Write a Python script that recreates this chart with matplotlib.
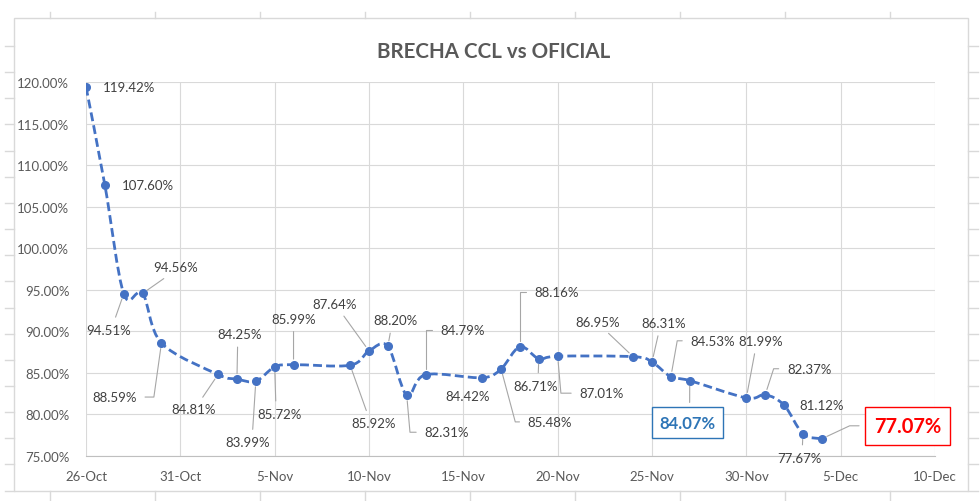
import numpy as np
import pandas as pd
import matplotlib
matplotlib.use("Agg")
import matplotlib.pyplot as plt
import matplotlib.dates as mdates
from matplotlib.path import Path
from matplotlib.patches import PathPatch, Rectangle
from matplotlib.lines import Line2D
from matplotlib.ticker import PercentFormatter, FuncFormatter

### data
fechas = ["2020-10-26", "2020-10-27", "2020-10-28", "2020-10-29", "2020-10-30",
          "2020-11-02", "2020-11-03", "2020-11-04", "2020-11-05", "2020-11-06",
          "2020-11-09", "2020-11-10", "2020-11-11", "2020-11-12", "2020-11-13",
          "2020-11-16", "2020-11-17", "2020-11-18", "2020-11-19", "2020-11-20",
          "2020-11-24", "2020-11-25", "2020-11-26", "2020-11-27",
          "2020-11-30", "2020-12-01", "2020-12-02", "2020-12-03", "2020-12-04"]
brecha = [119.42, 107.60, 94.51, 94.56, 88.59,
          84.81, 84.25, 83.99, 85.72, 85.99,
          85.92, 87.64, 88.20, 82.31, 84.79,
          84.42, 85.48, 88.16, 86.71, 87.01,
          86.95, 86.31, 84.53, 84.07,
          81.99, 82.37, 81.12, 77.67, 77.07]
titulo = "BRECHA CCL vs OFICIAL"
x_inicio, x_fin = "2020-10-26", "2020-12-10"
y_min, y_max, y_paso = 75, 120, 5

# label placement: offset in pixels from the point, leader kind, elbow angle
lbl_dx = [43, 43, -15, 33, -47, -24, 3, -8, 5, 0, 23, -34, 8, 40, 37,
          -15, 49, 37, -3, 44, -35, 12, 42, -2, 14, 44, 38, -3, 86]
lbl_dy = [0, 0, -36, 26, -54, -35, 45, -61, -47, 46, -58, 47, 26, -37, 45,
          -18, -53, 55, -27, -37, 35, 39, 36, -42, 57, 26, 0, -24, 13]
leader = ["none", "none", "line", "line", "elbow", "line", "line", "line", "line", "line",
          "line", "line", "line", "elbow", "elbow", "none", "elbow", "elbow", "line", "elbow",
          "line", "line", "elbow", "line", "line", "elbow", "none", "line", "elbow"]
elbow_ang = {4: 82, 13: 95, 14: 90, 16: 105, 17: 90, 19: 95, 22: 80, 25: 72, 28: 25}
highlight = {23: ("#2E75B6", 12), 28: ("#FF0000", 14.5)}

plt.rcParams["font.family"] = ["Lato", "DejaVu Sans"]
BLUE = "#4472C4"
GRID = "#d9d9d9"
TXT = "#595959"
LBL = "#404040"

fig = plt.figure(figsize=(9.8, 5.02), dpi=100)
ax = fig.add_axes([86 / 980, 45 / 502, (935 - 86) / 980, (457 - 83) / 502])

x = mdates.date2num(pd.to_datetime(fechas))
y = np.array(brecha)

### smoothed line (excel style bezier)
pts = np.column_stack([x, y])
ext = np.vstack([pts[:1], pts, pts[-1:]])
verts = [tuple(pts[0])]
codes = [Path.MOVETO]
for i in range(len(pts) - 1):
    c1 = pts[i] + (ext[i + 2] - ext[i]) / 6
    c2 = pts[i + 1] - (ext[i + 3] - ext[i + 1]) / 6
    verts += [tuple(c1), tuple(c2), tuple(pts[i + 1])]
    codes += [Path.CURVE4] * 3
ax.add_patch(PathPatch(Path(verts, codes), fill=False, edgecolor=BLUE, lw=2,
                       linestyle=(0, (3.2, 1.5)), capstyle="butt", zorder=3))
ax.plot(x, y, "o", ms=5.5, color=BLUE, zorder=4)

### axes
ticks = mdates.date2num(pd.date_range(x_inicio, x_fin, freq="5D"))
ax.set_xlim(mdates.date2num(pd.Timestamp(x_inicio)), mdates.date2num(pd.Timestamp(x_fin)))
ax.set_ylim(y_min, y_max)
ax.set_xticks(ticks)
ax.set_yticks(np.arange(y_min, y_max + 1, y_paso))
ax.xaxis.set_major_formatter(FuncFormatter(
    lambda v, p: f"{mdates.num2date(v).day}-{mdates.num2date(v).strftime('%b')}"))
ax.yaxis.set_major_formatter(PercentFormatter(decimals=2))
ax.tick_params(length=0, colors=TXT, labelsize=9.5)
ax.tick_params(axis="x", pad=10)
ax.tick_params(axis="y", pad=12)
ax.grid(True, color=GRID, lw=0.8)
ax.set_axisbelow(True)
for s in ["top", "right", "left"]:
    ax.spines[s].set_visible(False)
ax.spines["bottom"].set_color("#bfbfbf")
ax.spines["bottom"].set_linewidth(0.8)
ax.spines["bottom"].set_zorder(1)

### data labels
for i, (xi, yi) in enumerate(zip(x, y)):
    txt = f"{yi:.2f}%"
    kw = dict(xy=(xi, yi), xytext=(lbl_dx[i], lbl_dy[i]), textcoords="offset pixels",
              ha="center", va="center", fontsize=9.5, color=LBL, zorder=5)
    if i in highlight:
        col, fs = highlight[i]
        kw.update(color=col, fontsize=fs, fontweight="bold",
                  bbox=dict(boxstyle="square,pad=0.45", fc="white", ec=col, lw=1))
    dx, dy = lbl_dx[i], lbl_dy[i]
    if leader[i] == "line":
        rx = 0.5 + np.clip(-dx / 60, -0.1, 0.1)
        ry = 1 if dy < 0 else 0
        kw["arrowprops"] = dict(arrowstyle="-", color="#a6a6a6", lw=0.8,
                                shrinkA=3, shrinkB=4, relpos=(rx, ry))
    elif leader[i] == "elbow":
        rx = 0 if dx > 0 else 1
        kw["arrowprops"] = dict(arrowstyle="-", color="#a6a6a6", lw=0.8,
                                shrinkA=4, shrinkB=4, relpos=(rx, 0.5),
                                connectionstyle=f"angle,angleA=0,angleB={elbow_ang[i]},rad=0")
    ax.annotate(txt, **kw)

### title and chart frame
fig.text(493.5 / 980, 1 - 52.5 / 502, titulo, ha="center", va="center",
         fontsize=14.8, fontweight="bold", color=TXT)
fig.patches.append(Rectangle((14 / 980, 1 - 492 / 502), 954 / 980, 473 / 502,
                             transform=fig.transFigure, fill=False, ec=GRID, lw=1))
# sheet cell lines peeking out around the chart
for cx in np.arange(50, 900, 105):
    for y0, y1 in [(13, 19), (492, 502)]:
        fig.add_artist(Line2D([cx / 980] * 2, [1 - y0 / 502, 1 - y1 / 502], color=GRID, lw=1))
for ry in np.arange(47, 492, 26.15):
    for x0, x1 in [(5, 14), (968, 978)]:
        fig.add_artist(Line2D([x0 / 980, x1 / 980], [1 - ry / 502] * 2, color=GRID, lw=1))

fig.savefig("out.png", dpi=100)
